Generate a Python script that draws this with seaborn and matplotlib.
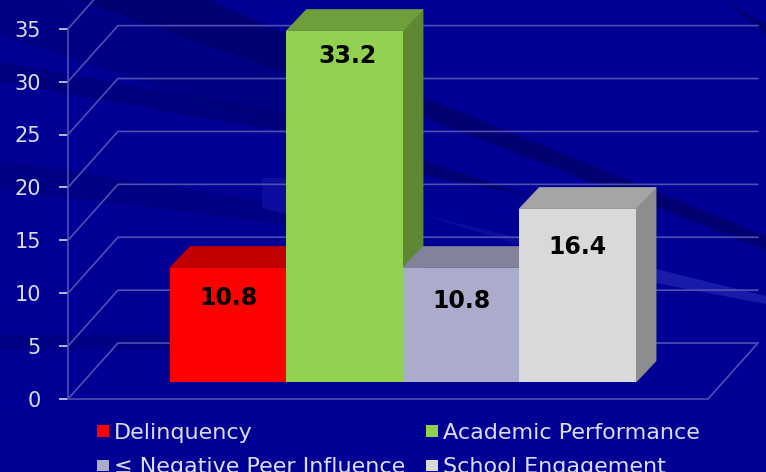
import matplotlib
matplotlib.use("Agg")
import matplotlib.pyplot as plt
from matplotlib.patches import Patch
import seaborn as sns

categories = ["Delinquency", "Academic Performance", "≤ Negative Peer Influence", "School Engagement"]
values = [10.8, 33.2, 10.8, 16.4]
bar_colors = ["#FF0000", "#92D050", "#ABABCC", "#D9D9D9"]
y_ticks = [0, 5, 10, 15, 20, 25, 30, 35]

sns.set_theme(style="ticks")
plt.rcParams["font.family"] = "DejaVu Sans"

base = "#000094"
line_col = "#4F4FB4"
text_col = "#DCDCF0"

fig = plt.figure(figsize=(7.66, 4.72), dpi=100, facecolor=base)

# background streaks, in pixel coordinates
bg = fig.add_axes([0, 0, 1, 1], zorder=0)
bg.set_xlim(0, 766)
bg.set_ylim(472, 0)
bg.axis("off")
dark = "#000084"
darker = "#000072"
light = "#0C0C9E"
bg.fill([0, 70, 300, 300, 0], [0, 0, 78, 135, 35], color=dark, lw=0)
bg.fill([75, 210, 300, 300], [0, 0, 40, 78], color=darker, lw=0)
bg.fill([0, 300, 300, 0], [62, 115, 135, 82], color=darker, lw=0, alpha=0.6)
bg.fill([0, 290, 290, 0], [160, 205, 225, 190], color=dark, lw=0)
bg.fill([423, 766, 766, 423], [97, 236, 250, 117], color=darker, lw=0)
bg.fill([423, 533, 423], [160, 197, 175], color=darker, lw=0)
bg.fill([725, 766, 766], [0, 25, 35], color=darker, lw=0)
bg.fill([0, 170, 170, 0], [335, 335, 350, 350], color=dark, lw=0)
bg.fill([262, 290, 290, 262], [178, 178, 215, 208], color=light, lw=0)
bg.fill([423, 520, 520], [215, 238, 245], color=light, lw=0)
bg.fill([656, 766, 766, 656], [269, 296, 304, 283], color="#1A1AA8", lw=0)

# main axes: left edge is the value axis, bottom edge is value 0
ax = fig.add_axes([68 / 766, (472 - 399) / 472, (766 - 68) / 766, 399 / 472], zorder=1)
ax.patch.set_alpha(0)

bar_bottom = 1.6
df = {"category": categories, "value": values}
sns.barplot(data=df, x="category", y="value", hue="category", palette=bar_colors,
            width=1.0, dodge=False, legend=False, bottom=bar_bottom, linewidth=0,
            saturation=1, zorder=3, ax=ax)

ax.set_xlim(-1.375, 4.616)
ax.set_ylim(0, 399 / 10.58)
ax.set_xlabel("")
ax.set_ylabel("")
ax.set_xticks([])
ax.set_yticks(y_ticks)
ax.tick_params(axis="y", length=6.5, width=1.4, color="#B4B4DC", labelcolor=text_col,
               labelsize=15, pad=13)
for side in ["top", "right", "bottom"]:
    ax.spines[side].set_visible(False)
ax.spines["left"].set_bounds(0, 35)
ax.spines["left"].set_color(line_col)
ax.spines["left"].set_linewidth(1.2)

# back wall and floor
wall_dx = 0.429
wall_dy = 5.29
x_left = -1.375
x_right = 4.547
for v in y_ticks:
    ax.plot([x_left, x_left + wall_dx, x_right], [v, v + wall_dy, v + wall_dy],
            color=line_col, lw=1.2, zorder=1)
ax.plot([x_left, x_right - wall_dx, x_right], [0, 0, wall_dy], color=line_col,
        lw=1.2, zorder=1, clip_on=False)

# top and side faces of the bars
depth_x = 0.172
depth_y = 2.0
half = 0.5


def shade(col, k):
    r, g, b = matplotlib.colors.to_rgb(col)
    return (r * k, g * k, b * k)


for i, (v, c) in enumerate(zip(values, bar_colors)):
    top = bar_bottom + v
    ax.fill([i + half, i + half + depth_x, i + half + depth_x, i + half],
            [bar_bottom, bar_bottom + depth_y, top + depth_y, top],
            color=shade(c, 0.65), lw=0.6, zorder=2)
    ax.fill([i - half, i - half + depth_x, i + half + depth_x, i + half],
            [top, top + depth_y, top + depth_y, top],
            color=shade(c, 0.76), lw=0.6, zorder=2)

# value labels sit at different depths inside each bar
label_drop = [2.9, 2.4, 3.1, 3.6]
label_shift = [0.0, 0.02, 0.0, 0.0]
for i, v in enumerate(values):
    ax.text(i + label_shift[i], bar_bottom + v - label_drop[i], f"{v:.1f}", ha="center",
            va="center", fontsize=17, fontweight="bold", color="black", zorder=4)

handles = [Patch(facecolor=c, edgecolor="none") for c in bar_colors]
# legend order runs down the columns
order = [0, 2, 1, 3]
leg = fig.legend([handles[i] for i in order], [categories[i] for i in order], ncol=2,
                 loc="upper left", bbox_to_anchor=(97 / 766, 1 - 423 / 472),
                 bbox_transform=fig.transFigure, frameon=False, fontsize=16,
                 labelcolor=text_col, handlelength=0.55, handleheight=0.42,
                 handletextpad=0.2, labelspacing=0.64, columnspacing=0.95,
                 borderpad=0, borderaxespad=0)

fig.savefig("out.png", dpi=100, facecolor=base)
